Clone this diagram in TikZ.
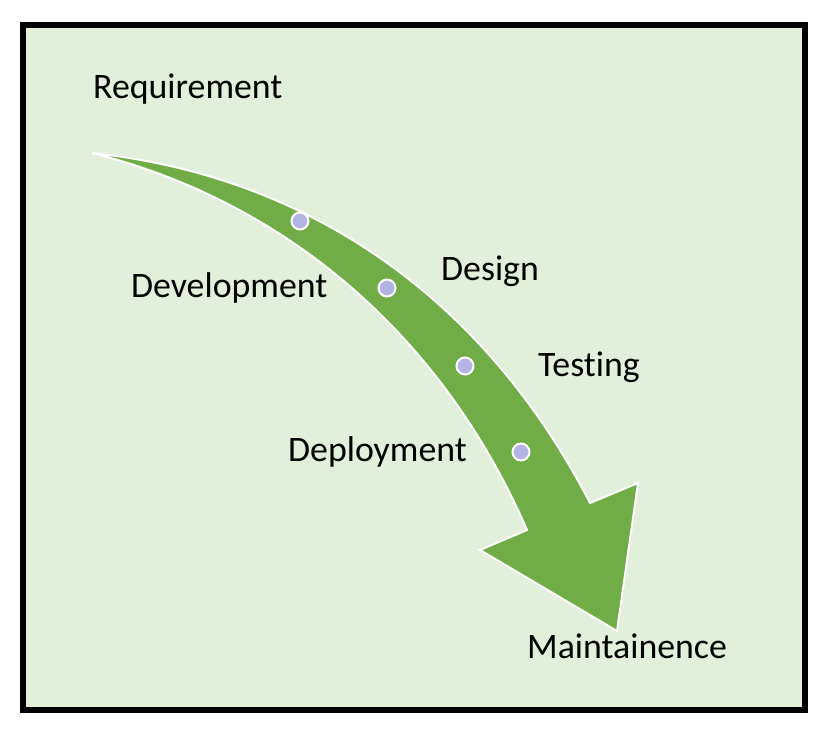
\documentclass[tikz,border=0pt]{standalone}
\usepackage{fontspec}
\setmainfont[Ligatures={NoCommon}]{Carlito}
\definecolor{bgG}{RGB}{226,239,218}
\definecolor{arrowG}{RGB}{112,173,71}
\definecolor{dotL}{RGB}{180,180,228}
\tikzset{
  lbl/.style={anchor=base west, inner sep=0pt, font=\fontsize{35.8}{42}\selectfont, text=black},
  dotmark/.style={circle, draw=white, line width=2pt, fill=dotL, minimum size=17pt, inner sep=0pt}
}
\begin{document}
\begin{tikzpicture}[x=1pt,y=-1pt]
\useasboundingbox (0,0) rectangle (832,735);
\fill[white] (0,0) rectangle (832,735);
\draw[line width=6pt, fill=bgG] (23,25) rectangle (805,710);
% curved arrow
\draw[white, line width=2pt, fill=arrowG, line join=miter]
  (92,153) .. controls (300,175) and (480,290) .. (590,503)
  -- (638,483) -- (617,631) -- (480,550) -- (527,530)
  .. controls (440,330) and (280,200) .. (92,153) -- cycle;
% dots
\node[dotmark] (d1) at (300,221) {};
\node[dotmark] (d2) at (387,288) {};
\node[dotmark] (d3) at (465,366) {};
\node[dotmark] (d4) at (521,452) {};
% labels
\node[lbl] (req) at (93,99) {Requirement};
\node[lbl] (dev) at (131,298) {Development};
\node[lbl] (des) at (441,280) {Design};
\node[lbl] (tst) at (538,376) {Testing};
\node[lbl] (dep) at (288,461) {Deployment};
\node[lbl] (mnt) at (527,658) {Maintainence};
\end{tikzpicture}
\end{document}
